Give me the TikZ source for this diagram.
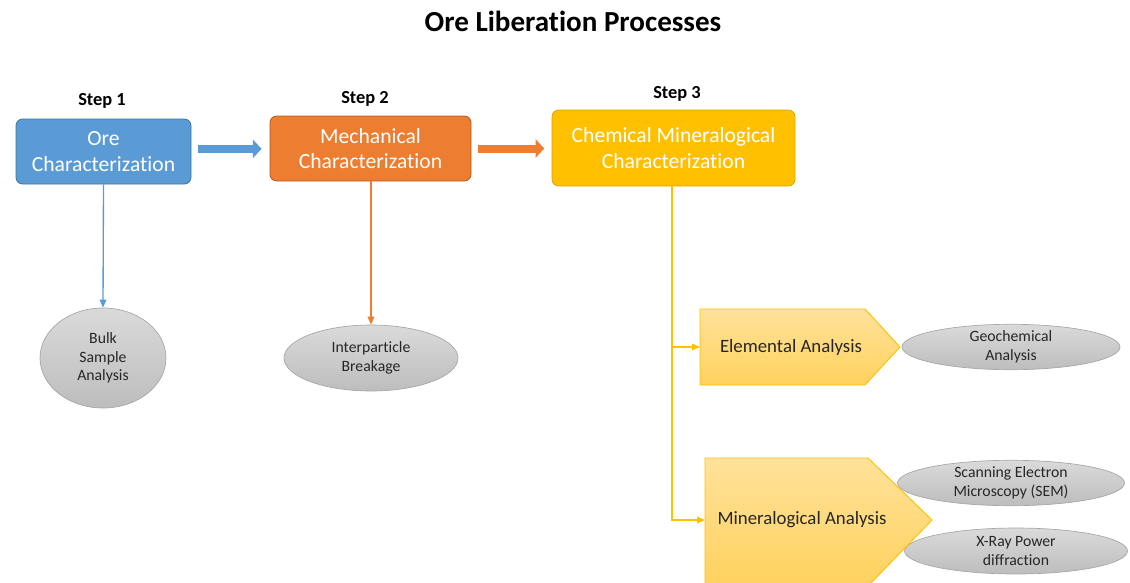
\documentclass[tikz,border=0pt]{standalone}
\usepackage{fontspec}
\setmainfont{Carlito}[Ligatures=NoCommon]
\usetikzlibrary{arrows.meta,shapes.geometric}
\definecolor{blueF}{HTML}{5B9BD5}
\definecolor{blueD}{HTML}{41719C}
\definecolor{orangeF}{HTML}{ED7D31}
\definecolor{orangeD}{HTML}{AE5A21}
\definecolor{goldF}{HTML}{FFC000}
\definecolor{goldD}{HTML}{D9A400}
\definecolor{pentT}{HTML}{FFE29A}
\definecolor{pentB}{HTML}{FFD25E}
\definecolor{ellT}{HTML}{DADADA}
\definecolor{ellB}{HTML}{BDBDBD}
\definecolor{ellD}{HTML}{A6A6A6}
\definecolor{txt}{HTML}{262626}
\tikzset{
  mainbox/.style={draw, rounded corners=5pt, line width=0.6pt, text=white, align=center,
    font=\fontsize{16.2}{19}\selectfont, inner sep=0pt},
  steplabel/.style={font=\fontsize{13.8}{15}\selectfont\bfseries, text=black},
  greyell/.style={ellipse, draw=ellD, line width=0.5pt, top color=ellT, bottom color=ellB,
    text=txt, align=center, inner sep=0pt, font=\fontsize{11.8}{14}\selectfont},
  pentshape/.style={draw=goldF, line width=0.7pt, top color=pentT, bottom color=pentB},
  ptext/.style={text=txt, font=\fontsize{14.1}{16}\selectfont},
  thinarrow/.style={line width=1pt, -{Triangle[length=6pt,width=5pt]}},
  blockarrow/.style={line width=6pt, -{Triangle[length=6.5pt,width=13.5pt]}},
}
\begin{document}
\begin{tikzpicture}[x=0.75pt,y=-0.75pt]
\useasboundingbox (0,0) rectangle (1130,582);

% title
\node[font=\fontsize{21.8}{24}\selectfont\bfseries] (title) at (573,21) {Ore Liberation Processes};

% step labels
\node[steplabel] (s1) at (102,101) {Step 1};
\node[steplabel] (s2) at (365,99) {Step 2};
\node[steplabel] (s3) at (677,94) {Step 3};

% main boxes
\node[mainbox, fill=blueF, draw=blueD, minimum width=131.25pt, minimum height=48.75pt] (b1) at (103.5,151.5) {Ore\\Characterization};
\node[mainbox, fill=orangeF, draw=orangeD, minimum width=150.75pt, minimum height=48.75pt] (b2) at (370.5,148.5) {Mechanical\\Characterization};
\node[mainbox, fill=goldF, draw=goldD, minimum width=182.25pt, minimum height=57pt] (b3) at (673.5,148) {Chemical Mineralogical\\Characterization};

% block arrows
\draw[blockarrow, blueF] ([xshift=5pt,yshift=2pt]b1.east) -- ([xshift=-6pt,yshift=2pt]b1.east -| b2.west);
\draw[blockarrow, orangeF] ([xshift=5pt]b2.east) -- ([xshift=-5.5pt]b2.east -| b3.west);

% ellipses
\node[greyell, minimum width=94.5pt, minimum height=75pt] (e1) at (103,358) {Bulk\\Sample\\Analysis};
\node[greyell, minimum width=130.5pt, minimum height=49.5pt] (e2) at (371,358) {Interparticle\\Breakage};
\node[greyell, minimum width=163.5pt, minimum height=33.75pt] (e3) at (1011,347) {Geochemical\\Analysis};
\node[greyell, minimum width=170.25pt, minimum height=33pt] (e4) at (1011,483) {Scanning Electron\\Microscopy (SEM)};
\node[greyell, minimum width=167.25pt, minimum height=34.5pt] (e5) at (1016,551) {X-Ray Power\\diffraction};

% pentagons
\draw[pentshape] (700,309) -- (865,309) -- (900,347) -- (865,385) -- (700,385) -- cycle;
\draw[pentshape] (705,458) -- (868,458) -- (932,520) -- (868,586) -- (705,586) -- cycle;
\coordinate (p1in) at (700,347);
\coordinate (p2in) at (705,520);
\node[ptext] (ea) at (791,347) {Elemental Analysis};
\node[ptext] (ma) at (802,520) {Mineralogical Analysis};

% thin connectors
\draw[thinarrow, blueF] (b1.south) -- (e1.north);
\draw[thinarrow, orangeF] (b2.south -| e2.north) -- (e2.north);
\draw[thinarrow, goldF] ([xshift=-1.1pt]b3.south) |- (p1in);
\draw[thinarrow, goldF] ([xshift=-1.1pt]b3.south) |- (p2in);
\end{tikzpicture}
\end{document}
